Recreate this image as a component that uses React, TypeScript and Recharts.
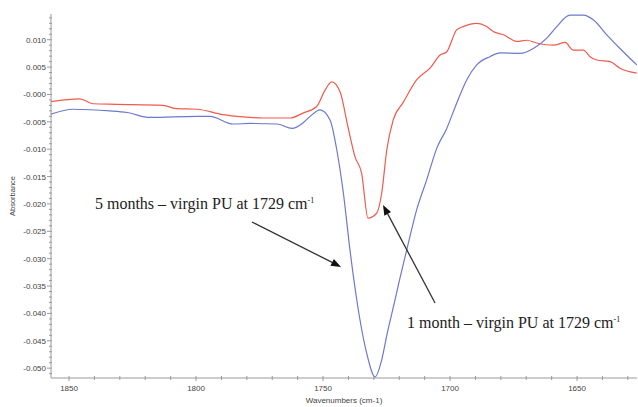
import { LineChart, Line, XAxis, YAxis, ReferenceLine, ReferenceDot } from "recharts";

// 1 month – virgin PU (red)
const redWn = [1857.1, 1845.7, 1840.6, 1831.1, 1813.0, 1807.5, 1799.6, 1789.4, 1781.5, 1773.6, 1763.0, 1757.9, 1752.5, 1749.2, 1746.6, 1743.3, 1740.2, 1737.4, 1734.8, 1732.3, 1728.9, 1726.9, 1724.9, 1722.4, 1718.5, 1713.1, 1707.9, 1703.9, 1701.3, 1697.4, 1694.8, 1689.5, 1685.6, 1683.0, 1679.0, 1673.7, 1669.8, 1665.9, 1659.3, 1654.7, 1651.5, 1647.5, 1644.9, 1642.2, 1637.0, 1633.1, 1626.5];
const redAbs = [-0.0013, -0.0008, -0.0017, -0.0018, -0.0020, -0.0026, -0.0027, -0.0037, -0.0041, -0.0043, -0.0043, -0.0034, -0.0022, 0.0008, 0.0023, 0.0005, -0.0059, -0.0114, -0.0144, -0.0226, -0.0217, -0.0180, -0.0101, -0.0047, -0.0015, 0.0027, 0.0048, 0.0072, 0.0078, 0.0118, 0.0124, 0.0130, 0.0124, 0.0115, 0.0109, 0.0097, 0.0099, 0.0094, 0.0090, 0.0095, 0.0081, 0.0081, 0.0069, 0.0063, 0.0060, 0.0048, 0.0039];

// 5 months – virgin PU (blue)
const blueWn = [1857.1, 1848.4, 1833.9, 1827.2, 1818.1, 1799.6, 1794.5, 1785.4, 1778.7, 1768.1, 1762.2, 1757.9, 1755.1, 1751.2, 1747.2, 1744.6, 1742.0, 1739.4, 1736.7, 1732.8, 1729.5, 1726.9, 1724.9, 1722.4, 1719.7, 1717.0, 1713.1, 1709.2, 1705.2, 1701.3, 1697.4, 1693.4, 1689.5, 1684.3, 1680.3, 1672.4, 1667.2, 1661.9, 1658.0, 1652.8, 1647.5, 1643.5, 1638.3, 1633.1, 1626.5];
const blueAbs = [-0.0036, -0.0027, -0.0030, -0.0033, -0.0042, -0.0040, -0.0040, -0.0054, -0.0053, -0.0054, -0.0062, -0.0052, -0.0040, -0.0028, -0.0047, -0.0101, -0.0180, -0.0284, -0.0376, -0.0473, -0.0516, -0.0485, -0.0440, -0.0390, -0.0335, -0.0283, -0.0210, -0.0156, -0.0098, -0.0062, -0.0016, 0.0027, 0.0054, 0.0069, 0.0076, 0.0075, 0.0084, 0.0103, 0.0124, 0.0145, 0.0145, 0.0136, 0.0109, 0.0084, 0.0054];

const xDomain = [1626.4, 1857.1];
const yDomain = [-0.0518, 0.0147];

const notes = [
  { text: "5 months – virgin PU at 1729 cm", at: [1839.8, -0.0209], from: [1778.0, -0.0233], to: [1742.9, -0.0315] },
  { text: "1 month – virgin PU at 1729 cm", at: [1716.9, -0.0427], from: [1705.9, -0.0381], to: [1726.4, -0.0202] },
];

const redData = redWn.map((w, i) => ({ w, v: redAbs[i] }));
const blueData = blueWn.map((w, i) => ({ w, v: blueAbs[i] }));

const xTicks: number[] = [];
for (let w = 1630; w <= 1850; w += 10) xTicks.push(w);
const yTicks: number[] = [];
for (let i = -51; i <= 14; i++) yTicks.push(i / 1000);

const axisColor = "#9a9a9a";
const sans = "Liberation Sans, Arial, sans-serif";

function YTick({ x, y, payload }: any) {
  const i = Math.round(payload.value * 1000);
  const major = i % 5 === 0;
  const label = i === 0 ? "-0.000" : (i / 1000).toFixed(3);
  return (
    <g>
      <line x1={x - (major ? 4 : 2)} x2={x + 1} y1={y} y2={y} stroke={axisColor} />
      {major && (
        <text x={x - 5} y={y} dy={3} textAnchor="end" fontSize={8} fill="#444" fontFamily={sans}>
          {label}
        </text>
      )}
    </g>
  );
}

function XTick({ x, y, payload }: any) {
  const major = payload.value % 50 === 0;
  return (
    <g>
      <line x1={x} x2={x} y1={y - 2} y2={y + (major ? 3 : 2)} stroke={axisColor} />
      {major && (
        <text x={x} y={y + 13} textAnchor="middle" fontSize={8} fill="#444" fontFamily={sans}>
          {payload.value}
        </text>
      )}
    </g>
  );
}

function Arrow({ x1, y1, x2, y2 }: any) {
  const dx = x2 - x1;
  const dy = y2 - y1;
  const len = Math.sqrt(dx * dx + dy * dy);
  const ux = dx / len;
  const uy = dy / len;
  const hl = 10;
  const hw = 3.8;
  const bx = x2 - ux * hl;
  const by = y2 - uy * hl;
  return (
    <g>
      <line x1={x1} y1={y1} x2={bx} y2={by} stroke="#333" strokeWidth={1.3} />
      <polygon
        points={`${x2},${y2} ${bx - uy * hw},${by + ux * hw} ${bx + uy * hw},${by - ux * hw}`}
        fill="#111"
      />
    </g>
  );
}

function NoteText({ cx, cy, text }: any) {
  return (
    <text x={cx} y={cy} fontSize={16} fill="#222" fontFamily="Liberation Serif, Times New Roman, serif">
      {text}
      <tspan dy={-6} fontSize={8}>-1</tspan>
    </text>
  );
}

export default function App() {
  return (
    <div style={{ position: "absolute", left: 0, top: 0, background: "#fff" }}>
      <LineChart width={638} height={407} margin={{ top: 14, right: 1, bottom: 0, left: 0 }}>
        <XAxis
          type="number"
          dataKey="w"
          domain={xDomain}
          reversed
          allowDataOverflow
          ticks={xTicks}
          interval={0}
          tick={<XTick />}
          tickLine={false}
          tickSize={0}
          tickMargin={0}
          height={29}
          stroke={axisColor}
          label={{ value: "Wavenumbers (cm-1)", position: "insideBottom", offset: 4, fontSize: 8, fill: "#444", fontFamily: sans }}
        />
        <YAxis
          type="number"
          dataKey="v"
          domain={yDomain}
          allowDataOverflow
          ticks={yTicks}
          interval={0}
          tick={<YTick />}
          tickLine={false}
          tickSize={0}
          tickMargin={0}
          width={51}
          stroke={axisColor}
          label={{
            content: ({ viewBox }: any) => (
              <text
                x={viewBox.x + 15}
                y={viewBox.y + viewBox.height / 2}
                transform={`rotate(-90 ${viewBox.x + 15} ${viewBox.y + viewBox.height / 2})`}
                textAnchor="middle"
                fontSize={7.5}
                fill="#444"
                fontFamily={sans}
              >
                Absorbance
              </text>
            ),
          }}
        />
        <Line data={redData} dataKey="v" type="monotone" stroke="#ef5b4c" strokeWidth={1.2} dot={false} isAnimationActive={false} />
        <Line data={blueData} dataKey="v" type="monotone" stroke="#6d79cc" strokeWidth={1.2} dot={false} isAnimationActive={false} />
        {notes.map((n) => (
          <ReferenceLine
            key={n.text + "-arrow"}
            segment={[{ x: n.from[0], y: n.from[1] }, { x: n.to[0], y: n.to[1] }]}
            shape={(p: any) => <Arrow {...p} />}
          />
        ))}
        {notes.map((n) => (
          <ReferenceDot
            key={n.text}
            x={n.at[0]}
            y={n.at[1]}
            r={0}
            shape={(p: any) => <NoteText cx={p.cx} cy={p.cy} text={n.text} />}
          />
        ))}
      </LineChart>
    </div>
  );
}
